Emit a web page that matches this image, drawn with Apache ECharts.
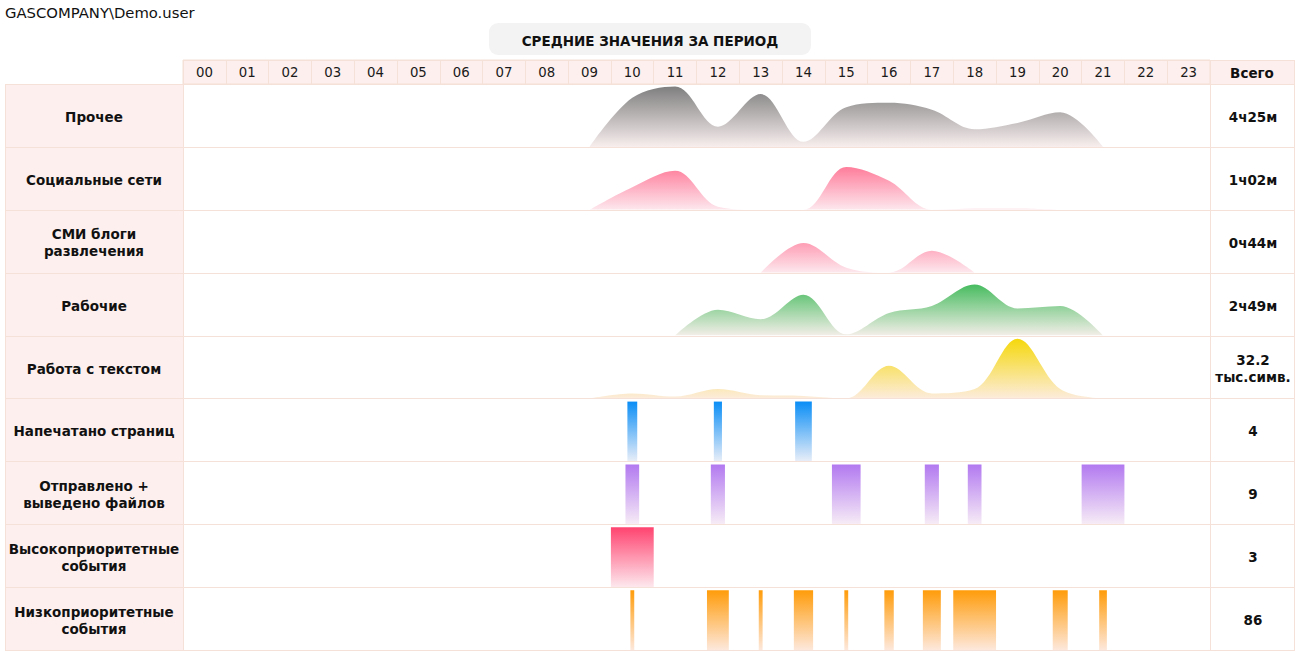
<!DOCTYPE html>
<html><head><meta charset="utf-8">
<script src="https://cdn.jsdelivr.net/npm/echarts@6/dist/echarts.min.js"></script>
<style>html,body{margin:0;padding:0;background:#fff}#c{width:1296px;height:652px}</style>
</head><body><div id="c"></div><script>
// ---------- DATA ----------
const HOURS = ['00','01','02','03','04','05','06','07','08','09','10','11','12','13','14','15','16','17','18','19','20','21','22','23'];
const TOTAL_HEADER = 'Всего';
const PAGE_USER = 'GASCOMPANY\\Demo.user';
const PAGE_TITLE = 'СРЕДНИЕ ЗНАЧЕНИЯ ЗА ПЕРИОД';
const ROW_LABELS = ['Прочее','Социальные сети','СМИ блоги\nразвлечения','Рабочие','Работа с текстом','Напечатано страниц','Отправлено +\nвыведено файлов','Высокоприоритетные\nсобытия','Низкоприоритетные\nсобытия'];
const TOTALS = ['4ч25м','1ч02м','0ч44м','2ч49м','32.2\nтыс.симв.','4','9','3','86'];

// hourly average activity (percent of row height), '-' = no activity
const OTHER   = ['-','-','-','-','-','-','-','-','-',0,78,96,32,84,8,63,70,59,28,38,55,0,'-','-'];
const SOCIAL  = ['-','-','-','-','-','-','-','-','-',0,36,62,5,0,0,68,46,0,2,2,0,'-','-','-'];
const MEDIA   = ['-','-','-','-','-','-','-','-','-','-','-','-','-',0,47,8,0,35,0,'-','-','-','-','-'];
const WORK    = ['-','-','-','-','-','-','-','-','-','-','-',0,41,26,65,2,36,47,81,43,47,0,'-','-'];
const TEXT    = ['-','-','-','-','-','-','-','-','-',0,8,3,15,5,4,0,52,8,15,95,15,0,'-','-'];

// event rows: hour index and share of the hour
const PRINTED_HOURS = [10,12,14];
const PRINTED_SHARE = [0.23,0.19,0.39];
const SENT_HOURS = [10,12,15,17,18,21];
const SENT_SHARE = [0.32,0.33,0.67,0.33,0.32,1.0];
const HIGH_HOURS = [10];
const HIGH_SHARE = [1.0];
const LOW_HOURS = [10,12,13,14,15,16,17,18,20,21];
const LOW_SHARE = [0.09,0.51,0.09,0.45,0.09,0.22,0.42,1.0,0.35,0.18];

// ---------- LAYOUT / STYLE ----------
const L = 5, LC = 183, PR = 1210, R = 1294, HT = 60, BT = 84, BB = 650;
const RH = (BB - BT) / 9;
const FONT = '"DejaVu Sans", Verdana, sans-serif';
const BORDER = '#f5e1d7';
const PINK = '#fdefed';
const BAR_LEVEL = 95;
const BOLD = 'bold 13.5px ' + FONT;

const ROWS = [
  {kind:'area', data:OTHER,  c1:'#7a7a7a', c2:'#f8eeee'},
  {kind:'area', data:SOCIAL, c1:'#ff4a74', c2:'#fde8ee'},
  {kind:'area', data:MEDIA,  c1:'#ff4a74', c2:'#fde8ee'},
  {kind:'area', data:WORK,   c1:'#1fb040', c2:'#f3eee8'},
  {kind:'area', data:TEXT,   c1:'#f5d700', c2:'#fcecdc'},
  {kind:'bar', hours:PRINTED_HOURS, share:PRINTED_SHARE, c1:'#0a8ef6', c2:'#e9eef8'},
  {kind:'bar', hours:SENT_HOURS, share:SENT_SHARE, c1:'#b279f0', c2:'#f7ecf6'},
  {kind:'bar', hours:HIGH_HOURS, share:HIGH_SHARE, c1:'#ff4470', c2:'#fde8ee'},
  {kind:'bar', hours:LOW_HOURS, share:LOW_SHARE, c1:'#ff9c0a', c2:'#fde8dc'}
];

const grid = [{left:LC, top:HT, width:PR-LC, height:BT-HT, show:true, backgroundColor:PINK, borderColor:BORDER, borderWidth:1}];
const xAxis = [{gridIndex:0, type:'category', data:HOURS, boundaryGap:true,
  axisLine:{show:false}, axisTick:{show:false},
  splitLine:{show:true, interval:0, lineStyle:{color:BORDER, width:1}},
  axisLabel:{interval:0, margin:-12, verticalAlign:'middle', color:'#1a1a1a', fontFamily:FONT, fontSize:13.3}}];
const yAxis = [{gridIndex:0, type:'value', show:false}];
const series = [];

ROWS.forEach((row, i) => {
  const gi = i + 1;
  const top = BT + i * RH;
  grid.push({left:LC, top:top, width:PR-LC, height:RH});
  xAxis.push({gridIndex:gi, type:'category', data:HOURS, boundaryGap:true, show:false});
  yAxis.push({gridIndex:gi, type:'value', min:0, max:100, show:false});
  if (row.kind === 'area') {
    series.push({type:'line', xAxisIndex:gi, yAxisIndex:gi, data:row.data, smooth:0.35,
      symbol:'none', silent:true, lineStyle:{width:0, opacity:0},
      areaStyle:{opacity:1, color:{type:'linear', x:0, y:top, x2:0, y2:top+RH, global:true,
        colorStops:[{offset:0, color:row.c1},{offset:1, color:row.c2}]}}});
  } else {
    series.push({type:'custom', xAxisIndex:gi, yAxisIndex:gi, silent:true,
      data: row.hours.map((h, j) => [h, row.share[j]]),
      renderItem: (params, api) => {
        const base = api.coord([api.value(0), 0]);
        const tp = api.coord([api.value(0), BAR_LEVEL]);
        const w = api.size([1, 0])[0] * api.value(1);
        return {type:'rect', shape:{x: base[0]-w/2, y: tp[1], width: w, height: base[1]-tp[1]},
          style:{fill: new echarts.graphic.LinearGradient(0,0,0,1,[{offset:0,color:row.c1},{offset:1,color:row.c2}])}};
      }});
  }
});

// ---------- TABLE GRAPHICS ----------
const g = [];
g.push({type:'rect', z:-5, shape:{x:L, y:BT, width:LC-L, height:BB-BT}, style:{fill:PINK}});
g.push({type:'rect', z:-5, shape:{x:PR, y:HT, width:R-PR, height:BT-HT}, style:{fill:PINK}});
const hl = (y, x1, x2) => g.push({type:'line', z:50, shape:{x1:x1, y1:y, x2:x2, y2:y}, style:{stroke:BORDER, lineWidth:1}});
const vl = (x, y1, y2) => g.push({type:'line', z:50, shape:{x1:x, y1:y1, x2:x, y2:y2}, style:{stroke:BORDER, lineWidth:1}});
hl(HT + 0.5, LC, R);
for (let k = 0; k <= 9; k++) hl(Math.round(BT + k * RH) + 0.5, L, R);
vl(L + 0.5, BT, BB + 1);
vl(LC + 0.5, HT, BB + 1);
vl(PR + 0.5, HT, BB + 1);
vl(R + 0.5, HT, BB + 1);

g.push({type:'text', x:5, y:12, style:{text:PAGE_USER, font:'14.8px ' + FONT, fill:'#111', align:'left', verticalAlign:'middle'}});
g.push({type:'rect', shape:{x:489, y:23, width:322, height:32, r:9}, style:{fill:'#f3f3f3'}});
g.push({type:'text', x:650, y:40.5, style:{text:PAGE_TITLE, font:BOLD, fill:'#111', align:'center', verticalAlign:'middle'}});
g.push({type:'text', x:(PR+R)/2, y:(HT+BT)/2 + 1, z:60, style:{text:TOTAL_HEADER, font:BOLD, fill:'#111', align:'center', verticalAlign:'middle'}});
ROW_LABELS.forEach((t, i) => {
  const cy = BT + (i + 0.5) * RH + 1.5;
  g.push({type:'text', x:(L+LC)/2, y:cy, z:60, style:{text:t, font:BOLD, lineHeight:17, fill:'#111', align:'center', verticalAlign:'middle'}});
  g.push({type:'text', x:(PR+R)/2 + 1, y:cy, z:60, style:{text:TOTALS[i], font:BOLD, lineHeight:17, fill:'#111', align:'center', verticalAlign:'middle'}});
});

const chart = echarts.init(document.getElementById('c'), null, {renderer:'svg', width:1296, height:652});
chart.setOption({animation:false, backgroundColor:'#fff', grid, xAxis, yAxis, series, graphic:{elements:g}});
</script></body></html>
